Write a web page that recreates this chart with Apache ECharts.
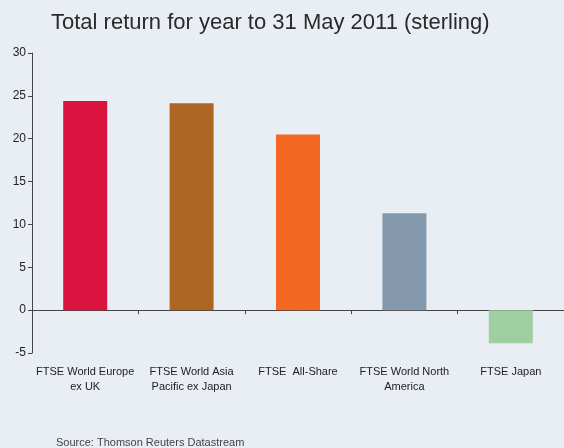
<!DOCTYPE html>
<html>
<head>
<meta charset="utf-8">
<script src="https://cdn.jsdelivr.net/npm/echarts@6/dist/echarts.min.js"></script>
<style>
  html, body { margin: 0; padding: 0; background: #E9EEF5; }
  #chart { width: 564px; height: 448px; }
</style>
</head>
<body>
<div id="chart"></div>
<script>
// categories and values
var categories = [
  'FTSE World Europe\nex UK',
  'FTSE World Asia\nPacific ex Japan',
  'FTSE  All-Share',
  'FTSE World North\nAmerica',
  'FTSE Japan'
];
var returns = [24.4, 24.15, 20.5, 11.3, -3.85];
var barColors = ['#D8143F', '#AD6623', '#F26722', '#8499AE', '#9FCFA0'];
var yTicks = { min: -5, max: 30, step: 5 };

var chart = echarts.init(document.getElementById('chart'));

var option = {
  backgroundColor: '#E9EEF5',
  textStyle: { fontFamily: 'Liberation Sans, Arial, sans-serif' },
  title: [
    {
      text: 'Total return for year to 31 May 2011 (sterling)',
      left: 46,
      top: 7,
      textStyle: { fontSize: 22, fontWeight: 'normal', color: '#2a2a2a' }
    },
    {
      text: 'Source: Thomson Reuters Datastream',
      left: 51,
      top: 432,
      textStyle: { fontSize: 11, fontWeight: 'normal', color: '#444' }
    }
  ],
  grid: { left: 32, right: 0, top: 53, bottom: 95 },
  xAxis: [
    {
      type: 'category',
      data: categories,
      position: 'bottom',
      axisLine: { show: false, onZero: false },
      axisTick: { show: false },
      axisLabel: { interval: 0, fontSize: 11, color: '#222', lineHeight: 15, margin: 11 }
    },
    {
      type: 'category',
      data: categories,
      position: 'bottom',
      axisLine: { onZero: true, lineStyle: { color: '#444', width: 1 } },
      axisTick: { show: true, interval: 0, length: 4, lineStyle: { color: '#444' } },
      axisLabel: { show: false, interval: 0 }
    }
  ],
  yAxis: {
    type: 'value',
    min: yTicks.min,
    max: yTicks.max,
    interval: yTicks.step,
    axisLine: { show: true, lineStyle: { color: '#444' } },
    axisTick: { show: true, length: 4, lineStyle: { color: '#444' } },
    axisLabel: { fontSize: 12, color: '#222', margin: 6 },
    splitLine: { show: false }
  },
  series: [
    {
      type: 'bar',
      xAxisIndex: 0,
      barWidth: 44,
      data: returns.map(function (v, i) {
        return { value: v, itemStyle: { color: barColors[i] } };
      })
    }
  ]
};

chart.setOption(option);
</script>
</body>
</html>
